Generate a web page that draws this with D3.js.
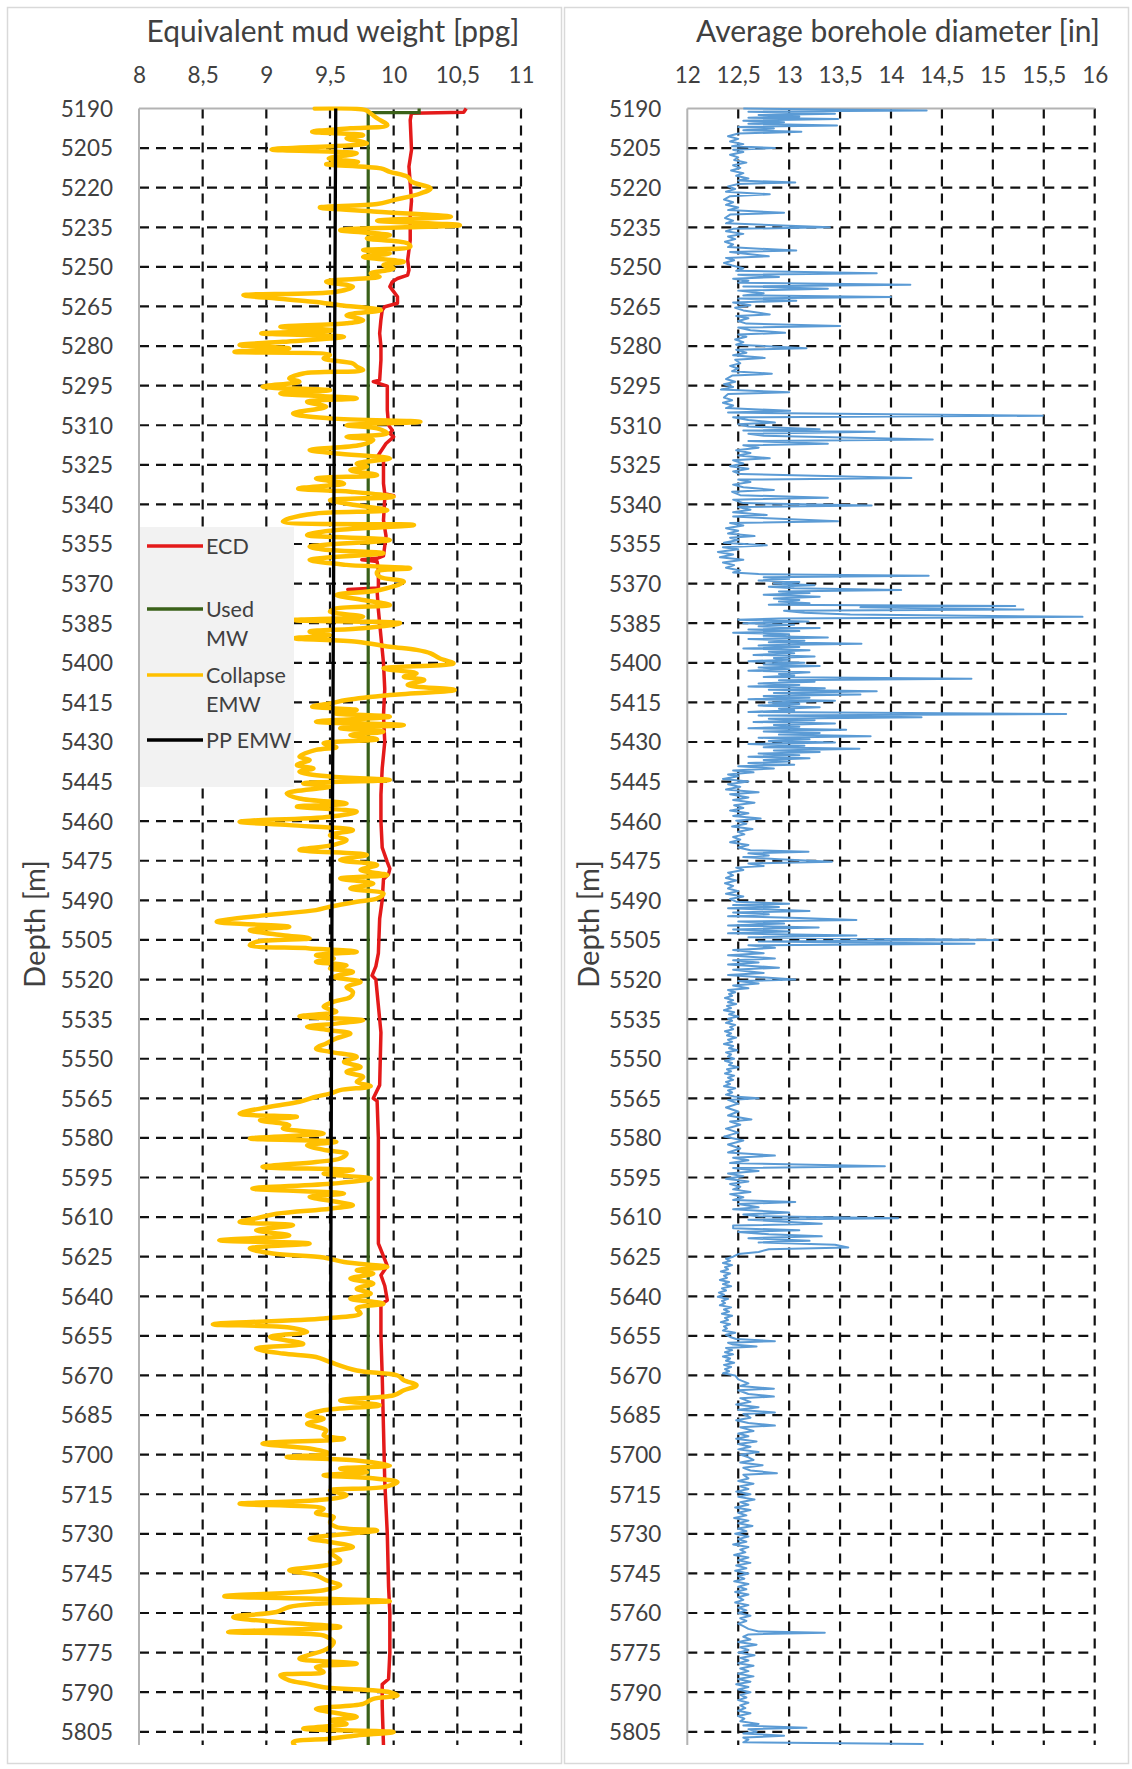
<!DOCTYPE html>
<html>
<head>
<meta charset="utf-8">
<script src="https://cdn.jsdelivr.net/npm/d3@7"></script>
<style>
  body { margin: 0; background: #fff; }
  svg { display: block; }
  text { font-family: Lato, "Open Sans", sans-serif; fill: #404040; }
</style>
</head>
<body>
<svg id="chart" width="1132" height="1769"></svg>
<script>
// ---- Data: each series is a list of [depth (m), value] pairs ----
const ecd = [[5190,10.57],[5191.4,10.55],[5191.8,10.14],[5194.4,10.13],[5205.7,10.14],[5212,10.12],[5218.4,10.13],[5225,10.14],[5231,10.13],[5239.9,10.13],[5247.4,10.11],[5251.2,10.12],[5253.1,10.11],[5254.4,10.03],[5255.6,9.99],[5257.5,9.97],[5259.4,10.0],[5261.3,10.03],[5263.8,10.03],[5265.1,9.93],[5266.4,9.91],[5270,9.9],[5275.2,9.89],[5280,9.9],[5285.3,9.9],[5292.9,9.89],[5293.5,9.84],[5295.2,9.95],[5304.3,9.95],[5310,9.96],[5311.9,9.99],[5313.1,9.97],[5314.4,10.0],[5316.9,9.94],[5322,9.87],[5323.2,9.92],[5332.1,9.92],[5335.9,9.93],[5336.7,10.0],[5337.7,9.93],[5346,9.92],[5352,9.94],[5359.5,9.92],[5360.4,9.87],[5361,9.75],[5361.6,9.87],[5365,9.88],[5371.7,9.88],[5372.2,9.64],[5372.8,9.87],[5380,9.88],[5390,9.9],[5400,9.92],[5410,9.93],[5420,9.92],[5430,9.93],[5440,9.91],[5450,9.9],[5460,9.9],[5470,9.91],[5475.5,9.95],[5478,9.97],[5480,9.96],[5482,9.92],[5490,9.91],[5497,9.89],[5510,9.88],[5515,9.86],[5518.5,9.83],[5520,9.86],[5530,9.88],[5540,9.9],[5560,9.89],[5565,9.84],[5566,9.87],[5580,9.88],[5600,9.88],[5620,9.88],[5628.5,9.95],[5632,9.9],[5636,9.93],[5641.5,9.95],[5643,9.9],[5655,9.9],[5670,9.91],[5690,9.92],[5710,9.93],[5730,9.95],[5750,9.96],[5760,9.97],[5775,9.97],[5785,9.96],[5787,9.91],[5795,9.91],[5810,9.92]];

const usedMW = [[5190,10.2],[5191.6,10.2],[5191.6,9.8],[5810,9.8]];

const collapseEMW = [[5190,9.38],[5190.6,9.78],[5191.9,9.82],[5193.7,9.87],[5196.3,9.95],[5197.5,9.66],[5198.8,9.36],[5200.1,9.76],[5201.3,9.63],[5203.2,9.79],[5205.5,9.04],[5207,9.71],[5208.9,9.49],[5210.2,9.72],[5211.1,9.47],[5212.7,9.9],[5214,9.97],[5215.9,10.11],[5217.7,10.14],[5220.3,10.29],[5222.2,10.21],[5224.7,10.0],[5226.2,9.87],[5227.5,9.42],[5229.1,9.87],[5231,10.45],[5232.5,9.87],[5234.2,10.52],[5236.1,9.58],[5238,9.97],[5239.2,9.79],[5241.1,10.11],[5242.4,10.13],[5243.6,9.76],[5244.9,9.97],[5246.2,9.76],[5248.1,10.08],[5249.3,9.92],[5250.6,10.0],[5252.5,9.82],[5253.7,9.89],[5255.6,9.47],[5257.5,9.68],[5259.4,9.55],[5260.7,8.82],[5262,9.08],[5263.2,9.37],[5264.5,9.58],[5266.4,9.9],[5268.3,9.63],[5270.2,9.76],[5271.4,9.63],[5272.7,9.11],[5274,9.53],[5275.2,8.96],[5276.5,9.61],[5278.4,9.13],[5279.6,8.79],[5280.9,9.18],[5282.2,8.75],[5283.4,9.5],[5284.7,9.45],[5286.6,9.68],[5287.8,9.71],[5289.1,9.76],[5290.4,9.29],[5292.3,9.18],[5293.5,9.26],[5295.4,8.97],[5296.7,9.5],[5298,9.11],[5299.8,9.71],[5301.1,9.32],[5303,9.47],[5305.5,9.21],[5307.4,9.5],[5308.7,10.21],[5310,9.63],[5311.2,9.87],[5313.1,9.95],[5314.4,9.63],[5315.6,9.84],[5317.5,9.74],[5319.4,9.34],[5320.7,9.55],[5322.6,9.97],[5324.5,9.71],[5325.7,9.79],[5327,9.66],[5328.9,9.87],[5330.2,9.39],[5332.1,9.61],[5334,9.25],[5335.2,9.66],[5337.1,10.0],[5338.4,9.5],[5340.3,9.71],[5342.2,9.95],[5343.4,9.39],[5345.3,9.18],[5346.5,9.13],[5347.8,10.16],[5349.7,9.55],[5351.6,9.32],[5353.5,9.97],[5356,9.34],[5357.3,9.5],[5358.5,9.92],[5361,9.34],[5362.9,9.63],[5364.2,10.13],[5365.5,9.87],[5367.4,9.89],[5369.3,10.08],[5372.4,9.89],[5374.3,9.55],[5376.2,9.76],[5378.1,9.97],[5379.4,9.55],[5380.6,9.5],[5382.5,9.76],[5383.8,9.21],[5385,10.05],[5386.9,9.76],[5388.2,9.34],[5389.5,9.5],[5390.7,9.22],[5392,9.71],[5393.9,9.97],[5395.1,10.18],[5396.4,10.29],[5398.3,10.36],[5400.2,10.47],[5402.1,9.92],[5404,10.18],[5405.3,10.08],[5406.5,10.24],[5408.4,10.11],[5410.3,10.48],[5412.2,9.97],[5414.1,9.63],[5415.4,9.5],[5416.6,9.36],[5417.9,9.71],[5419.1,9.53],[5420.4,9.97],[5422.3,9.39],[5423.6,10.08],[5424.8,9.58],[5426.1,9.92],[5427.4,9.66],[5429,9.87],[5430.5,9.45],[5432,9.55],[5433,9.39],[5435.6,9.26],[5436.8,9.34],[5438.7,9.24],[5440,9.37],[5441.3,9.26],[5443.1,9.5],[5444.4,9.97],[5445.7,9.29],[5446.9,9.5],[5449.5,9.16],[5451.4,9.26],[5453.3,9.63],[5454.5,9.24],[5456.4,9.71],[5458.3,9.5],[5460.2,8.79],[5461.5,9.18],[5463.4,9.68],[5465.3,9.5],[5467.1,9.63],[5469,9.53],[5470.9,9.26],[5472.8,9.79],[5474.7,9.58],[5476.6,9.87],[5478.5,9.74],[5480.4,9.95],[5481.7,9.58],[5483.6,9.84],[5485.5,9.66],[5487.4,9.92],[5489.3,9.87],[5490.5,9.71],[5492.4,9.5],[5493.7,9.39],[5495.6,9.0],[5498.1,8.61],[5500,9.18],[5501.3,8.87],[5503.2,9.13],[5504.4,9.34],[5505.7,8.92],[5507,8.87],[5508.2,9.34],[5509.5,9.71],[5510.8,9.39],[5512,9.53],[5513.3,9.39],[5514.6,9.63],[5515.8,9.5],[5517.1,9.68],[5519,9.53],[5520.9,9.74],[5522.8,9.63],[5524.7,9.68],[5526.6,9.66],[5528.4,9.53],[5530.3,9.45],[5532.2,9.55],[5533.9,9.26],[5535.4,9.76],[5536.7,9.55],[5537.9,9.32],[5539.2,9.5],[5540.4,9.66],[5542.3,9.55],[5544.2,9.47],[5546.1,9.39],[5547.4,9.5],[5549.3,9.71],[5551.2,9.61],[5553.1,9.74],[5555,9.63],[5556.9,9.76],[5558.8,9.71],[5560.4,9.82],[5561.9,9.58],[5563.2,9.5],[5564.4,9.39],[5566.3,9.26],[5568.2,9.03],[5570.8,8.79],[5572,9.24],[5573.3,8.95],[5575.2,9.18],[5576.4,9.13],[5578.3,9.45],[5580.2,8.87],[5581.5,9.55],[5582.8,9.32],[5584.7,9.47],[5585.9,9.63],[5587.8,9.58],[5589.1,9.39],[5591,8.97],[5592.2,9.68],[5593.5,9.45],[5595.4,9.82],[5597.3,9.53],[5599.2,8.89],[5601.1,9.61],[5602.3,9.34],[5604.2,9.55],[5605.5,9.68],[5606.8,9.5],[5608.7,9.08],[5610.5,8.92],[5611.8,8.79],[5613.1,9.21],[5615,8.92],[5616.9,9.18],[5618.8,8.63],[5620,9.34],[5621.9,8.87],[5623.8,9.05],[5625.3,9.45],[5627,9.61],[5628.9,9.95],[5630.1,9.71],[5631.4,9.84],[5633.3,9.66],[5635.2,9.84],[5637.1,9.71],[5639,9.82],[5640.9,9.66],[5642.8,9.92],[5644.6,9.71],[5646.5,9.74],[5648.4,9.45],[5650.6,8.58],[5651.8,9.18],[5653.5,9.32],[5655.4,9.03],[5658,9.29],[5659.8,8.92],[5661.7,9.13],[5663,9.39],[5664.9,9.5],[5668.1,9.71],[5670,10.03],[5671.8,10.08],[5673.7,10.18],[5675.6,10.08],[5677.5,10.0],[5679.4,9.58],[5681.3,9.89],[5683.2,9.45],[5685.1,9.32],[5686.4,9.45],[5688.3,9.32],[5690.8,9.47],[5692.7,9.45],[5694,9.61],[5695.8,8.97],[5697.7,9.34],[5699.6,9.5],[5700.9,9.16],[5702.2,9.71],[5704.1,9.97],[5705.3,9.58],[5706.6,9.79],[5707.8,9.45],[5709.1,9.87],[5710.4,10.03],[5712.3,9.92],[5713.5,9.5],[5715.4,9.63],[5717.3,9.39],[5718.6,8.79],[5720.5,9.45],[5722.1,9.39],[5723.6,9.53],[5725.5,9.5],[5727.4,9.55],[5728.7,9.87],[5730.6,9.5],[5731.8,9.34],[5733.1,9.5],[5735,9.68],[5736.9,9.5],[5738.2,9.53],[5740.1,9.58],[5741.9,9.47],[5743.8,9.18],[5745.7,9.39],[5747.6,9.47],[5749.5,9.58],[5751.4,9.45],[5753.6,8.67],[5754.6,9.45],[5755.5,9.97],[5756.5,9.39],[5757.7,9.18],[5759.6,9.08],[5761.5,8.74],[5763.4,9.08],[5765.3,9.58],[5767.2,8.7],[5768.5,9.45],[5769.7,9.5],[5771,9.53],[5772.9,9.5],[5774.2,9.45],[5776.1,9.32],[5777.3,9.26],[5779.2,9.71],[5780.5,9.39],[5782.4,9.45],[5783.6,9.11],[5785.5,9.18],[5786.8,9.32],[5788.1,9.45],[5790,9.97],[5791.2,10.03],[5792.5,9.84],[5794.4,9.76],[5796.3,9.39],[5797.9,9.55],[5799.4,9.71],[5800.7,9.5],[5802,9.63],[5803.8,9.29],[5805.1,10.0],[5806.4,9.71],[5807.6,9.5],[5808.9,9.21],[5810,9.22]];

const ppEMW = [[5190,9.545],[5350,9.53],[5500,9.515],[5650,9.505],[5810,9.497]];

const caliper = [[5190,12.55],[5190.5,13.6],[5190.8,14.35],[5191.2,12.6],[5191.6,13.0],[5192,13.45],[5192.5,12.7],[5193,13.1],[5193.5,12.6],[5194,13.48],[5194.6,12.55],[5195.2,12.95],[5195.8,12.6],[5196.4,13.47],[5197,12.5],[5197.6,12.85],[5198.2,12.55],[5198.8,13.12],[5199.5,12.5],[5200.5,12.4],[5201.5,12.5],[5202.5,12.42],[5203.5,12.55],[5204.3,12.44],[5205,12.86],[5205.6,12.45],[5206.5,12.55],[5207.5,12.42],[5208.5,12.5],[5209.5,12.46],[5210.5,12.58],[5211.5,12.45],[5212.5,12.52],[5213.5,12.43],[5214.5,12.55],[5215.5,12.48],[5216.5,12.6],[5217.3,12.5],[5218,13.06],[5218.6,12.5],[5219.5,12.4],[5220.5,12.47],[5221.5,12.38],[5222.5,12.81],[5223.2,12.42],[5224.5,12.36],[5225.5,12.45],[5226.5,12.38],[5227.5,12.5],[5228.5,12.4],[5229.5,12.95],[5230.2,12.42],[5231.5,12.37],[5232.5,12.45],[5233.5,12.38],[5235,13.4],[5235.6,12.45],[5236.5,12.38],[5237.5,12.55],[5238.5,12.4],[5239.5,12.47],[5240.5,12.37],[5241.5,12.45],[5242.5,12.4],[5243.8,13.07],[5244.4,12.42],[5246,12.8],[5246.6,12.38],[5247.5,12.46],[5248.5,12.36],[5249.5,12.44],[5250.5,12.55],[5251.5,12.48],[5252.4,13.86],[5253,12.5],[5253.8,12.9],[5254.5,12.45],[5255.3,12.6],[5256,12.5],[5256.8,14.19],[5257.4,12.55],[5258.3,13.38],[5259,12.5],[5260,12.75],[5260.8,12.55],[5261.4,14.0],[5262,12.5],[5262.8,13.07],[5263.5,12.45],[5264.5,12.62],[5265.5,12.47],[5266.5,12.55],[5268,12.81],[5268.6,12.48],[5269.5,12.6],[5270.5,12.5],[5271.5,12.58],[5272.4,13.5],[5273,12.5],[5274,12.62],[5275,12.96],[5275.6,12.5],[5276.5,12.58],[5277.5,12.47],[5278.5,12.55],[5279.5,12.48],[5280.8,13.17],[5281.4,12.48],[5282.5,12.58],[5283.5,12.45],[5284.5,12.76],[5285.2,12.47],[5286.5,12.52],[5287.5,12.42],[5288.5,12.5],[5289.5,12.44],[5290.5,12.83],[5291.2,12.44],[5292.5,12.38],[5293.5,12.47],[5294.5,12.36],[5295.5,12.45],[5296.5,12.33],[5297.5,13.0],[5298.2,12.4],[5299.5,12.36],[5300.5,12.44],[5301.5,12.35],[5302.5,12.45],[5303.5,12.38],[5304.5,13.01],[5305.2,12.4],[5306.4,15.49],[5307,12.45],[5308,12.6],[5309,12.86],[5309.6,12.5],[5310.5,12.6],[5311.5,13.3],[5312,12.55],[5312.5,13.84],[5313.2,12.6],[5314,12.75],[5315.4,14.41],[5316,12.6],[5317,13.38],[5317.6,12.55],[5318.5,12.7],[5319.5,12.48],[5320.5,12.62],[5321.5,12.5],[5322.5,12.81],[5323.3,12.45],[5324.5,12.55],[5325.5,12.42],[5326.5,12.6],[5327.5,12.45],[5328.5,12.52],[5330,14.2],[5330.6,12.5],[5331.5,12.62],[5332.5,12.45],[5333.5,12.55],[5334.5,12.85],[5335.2,12.44],[5336.5,12.52],[5337.5,13.38],[5338.2,12.45],[5339.5,12.55],[5340.4,13.81],[5341,12.5],[5342,12.62],[5343,12.45],[5344,12.78],[5344.6,12.45],[5346.4,13.48],[5347,12.42],[5348,12.55],[5349,12.38],[5350,12.5],[5351,12.4],[5352,12.66],[5352.6,12.42],[5353.5,12.5],[5354.5,12.36],[5355.5,12.78],[5356.2,12.35],[5357,12.5],[5358,12.3],[5359,12.45],[5360,12.32],[5361,12.55],[5362,12.35],[5363,12.46],[5364,12.38],[5365,12.52],[5365.8,12.45],[5366.4,12.7],[5367,14.37],[5367.6,12.75],[5368.2,13.0],[5368.8,12.7],[5369.4,13.1],[5370,12.85],[5370.6,13.25],[5371.2,12.8],[5371.8,13.05],[5372.4,14.1],[5373,12.9],[5373.6,13.2],[5374.2,12.75],[5375,13.3],[5375.6,12.85],[5376.2,13.1],[5376.8,12.9],[5377.4,13.2],[5378,12.8],[5378.5,15.22],[5379,13.7],[5379.8,15.3],[5380.3,12.95],[5381,13.15],[5381.7,13.6],[5382.6,15.88],[5383.2,12.9],[5383.7,12.5],[5384.4,13.19],[5385,12.55],[5385.6,13.05],[5386.2,12.7],[5386.8,13.3],[5387.4,12.6],[5388,13.1],[5388.6,12.45],[5389.2,13.0],[5389.8,12.75],[5390.4,13.38],[5391,12.6],[5391.6,13.15],[5392.2,12.8],[5392.8,13.71],[5393.4,12.7],[5394,13.1],[5394.6,12.55],[5395.2,13.2],[5395.8,12.8],[5396.4,13.05],[5397,12.65],[5397.6,13.25],[5398.2,12.85],[5398.8,13.0],[5399.4,12.6],[5400,13.15],[5400.6,12.75],[5401.2,13.3],[5401.8,12.7],[5402.4,13.0],[5403,12.6],[5403.6,13.2],[5404.2,12.9],[5404.8,13.05],[5405.4,12.75],[5406,14.79],[5406.6,12.9],[5407.2,13.25],[5407.8,12.7],[5408.4,13.1],[5409,12.6],[5409.6,13.35],[5410.2,12.8],[5410.8,13.86],[5411.4,12.85],[5412,13.7],[5412.6,12.75],[5413.2,13.2],[5413.8,12.6],[5414.4,13.45],[5415,12.8],[5415.6,13.1],[5416.2,12.7],[5416.8,13.3],[5417.4,12.9],[5418,13.05],[5418.6,12.6],[5419.4,15.72],[5420,12.7],[5420.6,14.3],[5421.2,12.8],[5421.8,13.25],[5422.4,12.65],[5423,13.45],[5423.6,12.85],[5424.2,13.1],[5424.8,12.6],[5425.4,13.56],[5426,12.75],[5426.6,13.3],[5427.2,12.9],[5427.8,13.8],[5428.4,12.7],[5429,13.2],[5429.6,12.8],[5430.2,13.45],[5430.8,12.6],[5431.4,13.15],[5432,12.75],[5432.6,13.69],[5433.2,12.85],[5433.8,13.3],[5434.4,12.7],[5435,13.1],[5435.6,12.6],[5436.2,13.2],[5436.8,12.75],[5437.4,13.0],[5438,12.6],[5438.6,13.05],[5439.2,12.5],[5440,12.85],[5440.8,12.45],[5441.5,12.65],[5442.3,12.4],[5443,12.5],[5444,12.35],[5445,12.6],[5446,12.4],[5447,12.52],[5448,12.38],[5449,12.7],[5449.8,12.42],[5451,12.6],[5452,12.45],[5453,12.66],[5454,12.46],[5455,12.55],[5456,12.42],[5457,12.6],[5458,12.45],[5459,12.72],[5459.8,12.48],[5461,12.58],[5462,12.44],[5463,12.64],[5464,12.5],[5465,12.56],[5466,12.45],[5467,12.52],[5468,12.42],[5469,12.6],[5470,12.5],[5471,12.62],[5471.6,13.19],[5472.2,12.6],[5473,12.8],[5473.6,12.55],[5474.4,12.9],[5475.4,13.42],[5476,12.6],[5477,12.75],[5477.6,12.48],[5478.5,12.55],[5479.5,12.4],[5480.5,12.45],[5481.5,12.38],[5482.5,12.48],[5483.5,12.37],[5484.5,12.45],[5485.5,12.4],[5486.5,12.5],[5487.5,12.38],[5488.5,12.55],[5489.5,12.42],[5490.5,12.48],[5491.3,13.0],[5491.8,12.45],[5492.5,12.9],[5493,12.4],[5494,13.2],[5494.6,12.45],[5495.3,12.8],[5496,12.4],[5496.7,13.1],[5497.4,13.66],[5498,12.5],[5498.8,12.95],[5499.5,12.4],[5500.3,13.29],[5501,12.45],[5501.8,13.0],[5502.5,12.4],[5503.3,13.66],[5504,12.6],[5505,15.05],[5505.6,12.7],[5506.4,14.82],[5507,12.6],[5508,12.86],[5508.8,12.45],[5510,12.75],[5510.8,12.4],[5512,12.86],[5512.7,12.45],[5513.5,12.7],[5514.3,12.4],[5515.5,12.9],[5516.3,12.45],[5517.5,12.75],[5518.3,12.4],[5519.3,12.8],[5520,13.06],[5520.6,12.5],[5521.5,12.7],[5522.3,12.45],[5523.3,12.6],[5524,12.4],[5524.8,12.47],[5525.5,12.41],[5526.2,12.44],[5527,12.37],[5527.8,12.45],[5528.6,12.4],[5529.3,12.48],[5530,12.39],[5530.8,12.43],[5531.6,12.36],[5532.4,12.46],[5533.2,12.41],[5534,12.5],[5534.8,12.4],[5535.6,12.44],[5536.4,12.38],[5537.2,12.47],[5538,12.42],[5538.8,12.45],[5539.6,12.37],[5540.4,12.43],[5541.2,12.39],[5542,12.48],[5542.8,12.4],[5543.6,12.44],[5544.4,12.36],[5545.2,12.45],[5546,12.41],[5546.8,12.49],[5547.6,12.38],[5548.4,12.43],[5549.2,12.4],[5550,12.46],[5550.8,12.37],[5551.6,12.44],[5552.4,12.41],[5553.2,12.5],[5554,12.39],[5554.8,12.43],[5555.6,12.37],[5556.4,12.46],[5557.2,12.4],[5558,12.45],[5558.8,12.38],[5559.6,12.42],[5560.4,12.36],[5561.2,12.47],[5562,12.4],[5562.8,12.44],[5563.6,12.38],[5564.3,12.46],[5565,12.7],[5565.6,12.4],[5567,12.5],[5568.5,12.38],[5570,12.5],[5571.5,12.4],[5573,12.63],[5573.8,12.42],[5575,12.52],[5576.5,12.38],[5578,12.5],[5579.5,12.36],[5581,12.55],[5582.5,12.4],[5584,12.52],[5585.5,12.4],[5586.7,12.86],[5587.5,12.45],[5588.5,12.6],[5589.5,12.42],[5590.7,13.94],[5591.4,12.45],[5592.5,12.7],[5593.5,12.4],[5594.5,12.55],[5595.5,12.38],[5596.5,12.6],[5597.5,12.42],[5598.5,12.52],[5599.5,12.45],[5600.5,12.62],[5601.3,12.42],[5602.5,12.55],[5603.5,12.45],[5604.3,13.06],[5605,12.5],[5606.3,12.7],[5607,12.45],[5608.3,13.0],[5609,12.55],[5609.7,12.7],[5610.4,14.07],[5611,12.6],[5612.5,13.32],[5613.2,12.45],[5614.2,12.45],[5615,13.1],[5615.6,12.5],[5616.5,12.8],[5617.3,13.32],[5618,12.6],[5619,13.2],[5619.6,12.7],[5620.5,13.45],[5621.5,13.58],[5622.2,12.8],[5623.2,12.7],[5624,12.5],[5625,12.45],[5625.8,12.38],[5626.6,12.42],[5627.4,12.35],[5628.2,12.44],[5629,12.37],[5629.8,12.4],[5630.6,12.33],[5631.4,12.42],[5632.2,12.36],[5633,12.39],[5633.8,12.32],[5634.6,12.41],[5635.4,12.35],[5636.2,12.43],[5637,12.34],[5637.8,12.38],[5638.6,12.31],[5639.4,12.36],[5640.2,12.3],[5641,12.4],[5641.8,12.34],[5642.6,12.37],[5643.4,12.32],[5644.2,12.43],[5645,12.36],[5645.8,12.41],[5646.6,12.34],[5647.4,12.44],[5648.2,12.37],[5649,12.4],[5649.8,12.33],[5650.6,12.42],[5651.4,12.36],[5652.2,12.39],[5653,12.35],[5653.8,12.47],[5654.6,12.38],[5655.4,12.42],[5656.2,12.48],[5657,12.86],[5657.6,12.4],[5658.3,12.45],[5659,12.68],[5659.6,12.38],[5660.4,12.44],[5661.2,12.37],[5662,12.45],[5662.8,12.35],[5663.6,12.42],[5664.4,12.38],[5665.2,12.46],[5666,12.36],[5666.8,12.43],[5667.6,12.37],[5668.4,12.41],[5669.2,12.35],[5670,12.47],[5671.5,12.5],[5673,12.6],[5674,12.52],[5675,12.85],[5675.6,12.5],[5677,12.6],[5678,12.85],[5678.6,12.52],[5680,12.62],[5681,12.48],[5682,12.7],[5683,12.5],[5684,12.86],[5684.6,12.55],[5686,12.62],[5687,12.48],[5688,12.6],[5689,12.86],[5689.6,12.52],[5691,12.65],[5692,12.5],[5693,12.6],[5694,12.48],[5695,12.68],[5696,12.5],[5697,12.62],[5698,12.5],[5699,12.7],[5700,12.52],[5701,12.6],[5702,12.65],[5703,12.52],[5704,12.74],[5705,12.55],[5706,12.62],[5707,12.88],[5707.6,12.55],[5709,12.6],[5710,12.5],[5711,12.65],[5712,12.52],[5713,12.6],[5714,12.48],[5715,12.62],[5716,12.5],[5717,12.66],[5718,12.52],[5719,12.6],[5720,12.47],[5721,12.62],[5722,12.5],[5723,12.58],[5724,12.46],[5725,12.6],[5726,12.5],[5727,12.64],[5728,12.5],[5729,12.58],[5730,12.47],[5731,12.6],[5732,12.5],[5733,12.58],[5734,12.45],[5735,12.6],[5736,12.52],[5737,12.57],[5738,12.46],[5739,12.6],[5740,12.5],[5741,12.62],[5742,12.48],[5743,12.58],[5744,12.47],[5745,12.6],[5746,12.5],[5747,12.56],[5748,12.46],[5749,12.6],[5750,12.5],[5751,12.58],[5752,12.47],[5753,12.6],[5754,12.5],[5755,12.55],[5756,12.47],[5757,12.6],[5758,12.5],[5759,12.58],[5760,12.5],[5761,12.62],[5762,12.52],[5763,12.58],[5764,12.5],[5765,12.55],[5766,12.6],[5767,12.7],[5767.5,13.35],[5768.1,12.6],[5769,12.55],[5770,12.62],[5771,12.5],[5772,12.68],[5773,12.52],[5774,12.6],[5775,12.5],[5776,12.66],[5777,12.52],[5778,12.6],[5779,12.5],[5780,12.65],[5781,12.52],[5782,12.6],[5783,12.5],[5784,12.65],[5785,12.5],[5786,12.62],[5787,12.48],[5788,12.6],[5789,12.5],[5790,12.62],[5791,12.52],[5792,12.58],[5793,12.5],[5794,12.6],[5795,12.52],[5796,12.57],[5797,12.5],[5798,12.62],[5799,12.5],[5800,12.56],[5801,12.52],[5802,12.7],[5802.6,12.55],[5803.5,13.17],[5804,12.6],[5805,12.68],[5805.6,12.55],[5806.5,12.95],[5807.2,12.55],[5808,12.6],[5809,12.55],[5809.6,14.32]];

// ---- Axes: domains and tick labels ----
const depthDomain = [5190, 5810];
const depthTicks = [5190,5205,5220,5235,5250,5265,5280,5295,5310,5325,5340,5355,5370,5385,5400,5415,5430,5445,5460,5475,5490,5505,5520,5535,5550,5565,5580,5595,5610,5625,5640,5655,5670,5685,5700,5715,5730,5745,5760,5775,5790,5805];
const mwDomain = [8, 11];
const mwTicks = [8, 8.5, 9, 9.5, 10, 10.5, 11];
const calDomain = [12, 16];
const calTicks = [12, 12.5, 13, 13.5, 14, 14.5, 15, 15.5, 16];

const legendItems = [
  { lines: ["ECD"], color: "#e41a1a" },
  { lines: ["Used", "MW"], color: "#3a6119" },
  { lines: ["Collapse", "EMW"], color: "#ffc000" },
  { lines: ["PP EMW"], color: "#000000" }
];

const svg = d3.select("#chart");
svg.append("rect").attr("width", 1132).attr("height", 1769).attr("fill", "#fff");

const fmt = v => String(v).replace(".", ",");

// scale a text element's font size so that it spans the given width
function fitWidth(sel, width) {
  sel.attr("font-size", 100);
  const w = sel.node().getComputedTextLength();
  sel.attr("font-size", 100 * width / w);
}

const plotTop = 108.5, plotBottom = 1745;

function panel(cfg) {
  const g = svg.append("g");
  // chart frame
  g.append("rect")
    .attr("x", cfg.frame[0]).attr("y", 7.5)
    .attr("width", cfg.frame[1] - cfg.frame[0]).attr("height", 1756)
    .attr("fill", "none").attr("stroke", "#d9d9d9").attr("stroke-width", 1.5);

  const x = d3.scaleLinear().domain(cfg.domain).range([cfg.left, cfg.right]);
  const y = d3.scaleLinear().domain(depthDomain).range([plotTop, plotBottom]);

  // dashed grid
  const grid = g.append("g").attr("stroke", "#111").attr("stroke-width", 2.2)
    .attr("stroke-dasharray", "10,7").attr("fill", "none");
  grid.selectAll("line.h").data(depthTicks.slice(1)).join("line").attr("class", "h")
    .attr("x1", cfg.left).attr("x2", cfg.right)
    .attr("y1", d => y(d)).attr("y2", d => y(d));
  grid.selectAll("line.v").data(cfg.ticks.slice(1)).join("line").attr("class", "v")
    .attr("x1", d => x(d)).attr("x2", d => x(d))
    .attr("y1", plotTop).attr("y2", plotBottom);

  // axis lines (top and left)
  g.append("line").attr("x1", cfg.left).attr("x2", cfg.right).attr("y1", plotTop).attr("y2", plotTop)
    .attr("stroke", "#b3b3b3").attr("stroke-width", 2);
  g.append("line").attr("x1", cfg.left).attr("x2", cfg.left).attr("y1", plotTop).attr("y2", plotBottom)
    .attr("stroke", "#b3b3b3").attr("stroke-width", 2);

  // tick labels
  const xAxis = d3.axisTop(x).tickValues(cfg.ticks).tickFormat(fmt).tickSize(0).tickPadding(0);
  const gx = g.append("g").attr("transform", `translate(0,${plotTop})`).call(xAxis);
  gx.select(".domain").remove();
  gx.selectAll("text").attr("y", 75.5 - plotTop).attr("dy", "0.35em")
    .attr("font-size", 22.5).attr("font-family", "Lato").attr("fill", "#404040");

  const yAxis = d3.axisLeft(y).tickValues(depthTicks).tickFormat(d => d).tickSize(0).tickPadding(0);
  const gy = g.append("g").attr("transform", `translate(${cfg.left},0)`).call(yAxis);
  gy.select(".domain").remove();
  gy.selectAll("text").attr("x", -26).attr("dy", "0.35em")
    .attr("font-size", 22.5).attr("font-family", "Lato").attr("fill", "#404040");

  // titles
  const t = g.append("text").text(cfg.title).attr("text-anchor", "middle")
    .attr("x", cfg.titleX).attr("y", 42);
  fitWidth(t, cfg.titleW);
  const yt = g.append("text").text("Depth [m]").attr("text-anchor", "middle").attr("dy", "0.35em")
    .attr("transform", `translate(${cfg.depthX},924) rotate(-90)`);
  fitWidth(yt, 128);

  // clip for the data
  const clipId = "clip" + cfg.id;
  svg.append("clipPath").attr("id", clipId).append("rect")
    .attr("x", cfg.left).attr("y", plotTop - 2).attr("width", cfg.right - cfg.left + 4).attr("height", plotBottom - plotTop + 2);
  const data = g.append("g").attr("clip-path", `url(#${clipId})`);

  return { g, x, y, data };
}

// ---- Left panel: equivalent mud weights ----
const L = panel({ id: "L", frame: [7.5, 561.5], left: 139, right: 521, domain: mwDomain, ticks: mwTicks,
  title: "Equivalent mud weight [ppg]", titleX: 333, titleW: 373, depthX: 35 });

const lineL = (curve) => d3.line().x(d => L.x(d[1])).y(d => L.y(d[0])).curve(curve || d3.curveLinear);

L.data.append("path").datum(ecd).attr("d", lineL())
  .attr("fill", "none").attr("stroke", legendItems[0].color).attr("stroke-width", 3.5).attr("stroke-linejoin", "round");
L.data.append("path").datum(usedMW).attr("d", lineL())
  .attr("fill", "none").attr("stroke", legendItems[1].color).attr("stroke-width", 3.2);
L.data.append("path").datum(collapseEMW).attr("d", lineL(d3.curveCatmullRom.alpha(0.5)))
  .attr("fill", "none").attr("stroke", legendItems[2].color).attr("stroke-width", 4.5)
  .attr("stroke-linejoin", "round").attr("stroke-linecap", "round");
L.data.append("path").datum(ppEMW).attr("d", lineL())
  .attr("fill", "none").attr("stroke", legendItems[3].color).attr("stroke-width", 3.3);

// legend
const lg = svg.append("g");
lg.append("rect").attr("x", 140).attr("y", 527).attr("width", 154).attr("height", 260).attr("fill", "#f2f2f2");
const legendY = [546, 609, 675, 740];
legendItems.forEach((it, i) => {
  lg.append("line").attr("x1", 147).attr("x2", 203).attr("y1", legendY[i]).attr("y2", legendY[i])
    .attr("stroke", it.color).attr("stroke-width", 3.5);
  it.lines.forEach((s, j) => {
    lg.append("text").text(s).attr("x", 206).attr("y", legendY[i] + j * 29).attr("dy", "0.35em")
      .attr("font-size", 21.5);
  });
});

// ---- Right panel: average borehole diameter ----
const R = panel({ id: "R", frame: [564.5, 1128.5], left: 687.3, right: 1094.7, domain: calDomain, ticks: calTicks,
  title: "Average borehole diameter [in]", titleX: 898, titleW: 404, depthX: 589 });

R.data.append("path").datum(caliper)
  .attr("d", d3.line().x(d => R.x(d[1])).y(d => R.y(d[0])))
  .attr("fill", "none").attr("stroke", "#5b9bd5").attr("stroke-width", 2).attr("stroke-linejoin", "round");
</script>
</body>
</html>
